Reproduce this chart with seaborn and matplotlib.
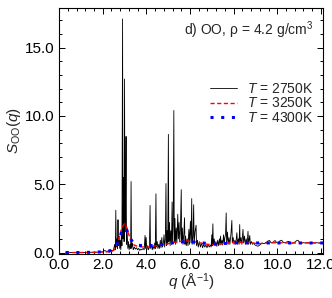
import numpy as np
import pandas as pd
import matplotlib
matplotlib.use("Agg")
import matplotlib.pyplot as plt
import seaborn as sns
from matplotlib.ticker import MultipleLocator, FormatStrFormatter

# S_OO(q)
q_2750 = [0.30, 0.80, 1.30, 1.80, 2.00, 2.10, 2.20, 2.30, 2.35, 2.40, 2.45,
          2.50, 2.55, 2.58, 2.60, 2.62, 2.65, 2.68, 2.70, 2.72, 2.75, 2.78, 2.80,
          2.83, 2.86, 2.88, 2.91, 2.93, 2.96, 2.98, 3.00, 3.02, 3.05, 3.07, 3.09,
          3.12, 3.15, 3.18, 3.21, 3.25, 3.28, 3.30, 3.32, 3.36, 3.40, 3.45, 3.50,
          3.55, 3.60, 3.65, 3.70, 3.75, 3.80, 3.85, 3.90, 3.94, 3.96, 3.99, 4.02,
          4.06, 4.10, 4.14, 4.17, 4.19, 4.23, 4.27, 4.31, 4.35, 4.39, 4.41, 4.44,
          4.46, 4.50, 4.53, 4.57, 4.60, 4.64, 4.67, 4.71, 4.74, 4.78, 4.81, 4.84,
          4.87, 4.90, 4.92, 4.95, 4.98, 5.01, 5.03, 5.06, 5.09, 5.12, 5.15, 5.18,
          5.20, 5.23, 5.26, 5.28, 5.31, 5.34, 5.37, 5.40, 5.44, 5.47, 5.50, 5.53,
          5.56, 5.60, 5.62, 5.65, 5.68, 5.72, 5.75, 5.77, 5.80, 5.83, 5.87, 5.91,
          5.95, 5.98, 6.02, 6.05, 6.08, 6.10, 6.14, 6.17, 6.19, 6.23, 6.28, 6.30,
          6.34, 6.38, 6.43, 6.48, 6.53, 6.58, 6.63, 6.68, 6.73, 6.78, 6.83, 6.88,
          6.93, 6.97, 7.00, 7.02, 7.05, 7.07, 7.11, 7.15, 7.19, 7.23, 7.27, 7.31,
          7.35, 7.38, 7.40, 7.43, 7.47, 7.50, 7.54, 7.57, 7.60, 7.63, 7.66, 7.68,
          7.72, 7.75, 7.79, 7.83, 7.88, 7.92, 7.94, 7.98, 8.02, 8.06, 8.10, 8.15,
          8.18, 8.22, 8.25, 8.28, 8.30, 8.34, 8.38, 8.43, 8.46, 8.50, 8.54, 8.58,
          8.62, 8.66, 8.69, 8.74, 8.77, 8.82, 8.87, 8.92, 8.98, 9.05, 9.12, 9.20,
          9.30, 9.40, 9.50, 9.58, 9.65, 9.72, 9.80, 9.90, 9.98, 10.05, 10.12,
          10.20, 10.28, 10.36, 10.44, 10.52, 10.60, 10.70, 10.80, 10.90, 10.95,
          11.02, 11.10, 11.20, 11.30, 11.40, 11.50, 11.60, 11.70, 11.80, 11.90,
          12.00, 12.10]
s_2750 = [0.00, 0.00, 0.01, 0.03, 0.05, 0.15, 0.06, 0.20, 0.08, 0.18, 0.10,
          0.25, 0.60, 0.20, 3.10, 0.40, 1.00, 0.30, 2.40, 0.50, 1.20, 0.30, 0.90,
          0.20, 1.50, 0.50, 17.10, 1.00, 5.50, 0.80, 12.70, 1.50, 4.00, 8.50, 0.60,
          1.50, 0.30, 0.80, 0.20, 0.60, 0.30, 5.20, 0.30, 0.70, 0.20, 0.40, 0.25,
          0.35, 0.20, 0.30, 0.15, 0.25, 0.20, 0.30, 0.20, 1.25, 0.30, 1.10, 0.20,
          0.50, 0.20, 0.40, 3.45, 0.30, 0.60, 0.20, 0.50, 0.25, 0.70, 0.30, 4.30,
          0.40, 0.80, 0.30, 0.60, 0.30, 0.90, 0.35, 1.10, 0.40, 0.70, 1.30, 0.40,
          0.90, 5.05, 0.50, 1.60, 0.60, 8.65, 0.80, 2.20, 0.50, 1.60, 0.60, 3.70,
          0.70, 2.00, 10.40, 0.80, 2.50, 0.60, 1.80, 0.70, 2.80, 1.00, 2.20, 0.80,
          1.60, 4.60, 0.70, 1.80, 0.60, 1.40, 2.55, 0.60, 1.20, 0.50, 1.00, 0.50,
          1.70, 0.60, 2.30, 0.70, 3.95, 0.60, 1.20, 3.50, 0.60, 1.50, 2.00, 0.50,
          0.90, 0.40, 0.80, 0.40, 0.70, 0.35, 0.60, 0.40, 0.55, 0.35, 0.60, 0.40,
          0.55, 0.40, 1.30, 0.50, 2.10, 0.60, 1.00, 0.50, 0.80, 0.45, 0.90, 0.50,
          1.00, 0.55, 1.20, 0.60, 0.90, 0.55, 1.30, 0.60, 1.10, 1.30, 2.90, 0.70,
          1.50, 0.60, 1.10, 0.60, 1.40, 2.35, 0.70, 1.10, 0.60, 0.90, 0.60, 1.45,
          0.60, 1.00, 0.60, 2.05, 0.70, 1.10, 0.60, 1.70, 0.70, 1.20, 0.60, 1.00,
          0.60, 1.55, 0.60, 1.25, 0.60, 0.80, 0.60, 0.70, 0.55, 0.50, 0.46, 0.55,
          0.70, 0.65, 0.75, 0.85, 0.88, 0.70, 0.75, 0.88, 0.72, 0.70, 0.85,
          0.90, 0.75, 0.70, 0.78, 0.82, 0.70, 0.68, 0.75, 0.88, 0.90,
          0.75, 0.70, 0.72, 0.70, 0.72, 0.70, 0.72, 0.70, 0.72, 0.70,
          0.70, 0.70]

q_3250 = [0.30, 1.00, 1.50, 2.00, 2.30, 2.50, 2.60, 2.70, 2.80, 2.90, 3.00,
          3.10, 3.20, 3.30, 3.40, 3.50, 3.70, 4.00, 4.30, 4.60, 5.00, 5.40, 5.80,
          6.10, 6.40, 6.80, 7.20, 7.60, 8.00, 8.40, 8.80, 9.20, 9.60, 10.00,
          10.50, 11.00, 11.50, 12.10]
s_3250 = [0.00, 0.00, 0.01, 0.03, 0.06, 0.15, 0.35, 0.80, 1.40, 1.90, 2.10,
          1.85, 1.30, 0.85, 0.60, 0.50, 0.42, 0.40, 0.45, 0.55, 0.65, 0.78, 0.85,
          0.82, 0.72, 0.60, 0.58, 0.68, 0.75, 0.75, 0.70, 0.65, 0.70, 0.72,
          0.70, 0.70, 0.70, 0.70]

q_4300 = [0.30, 1.00, 1.50, 2.00, 2.30, 2.50, 2.60, 2.70, 2.80, 2.90, 3.00,
          3.10, 3.20, 3.30, 3.40, 3.60, 3.80, 4.20, 4.60, 5.00, 5.50, 6.00, 6.50,
          7.00, 7.50, 8.00, 8.50, 9.00, 9.50, 10.00, 10.50, 11.00, 11.50, 12.10]
s_4300 = [0.00, 0.00, 0.02, 0.05, 0.10, 0.25, 0.45, 0.75, 1.20, 1.60, 1.80,
          1.65, 1.30, 0.95, 0.70, 0.55, 0.50, 0.50, 0.55, 0.65, 0.78, 0.80, 0.72,
          0.62, 0.65, 0.72, 0.72, 0.70, 0.70, 0.70, 0.70, 0.70, 0.70, 0.70]

labels = ['$T$ = 2750K', '$T$ = 3250K', '$T$ = 4300K']

sns.set_style('ticks')
plt.rcParams['font.family'] = ['Liberation Sans', 'DejaVu Sans']
plt.rcParams['mathtext.fontset'] = 'custom'
plt.rcParams['mathtext.rm'] = 'Liberation Sans'
plt.rcParams['mathtext.it'] = 'Liberation Sans:italic'

fig = plt.figure(figsize=(3.32, 2.98), dpi=100)
ax = fig.add_axes([0.178, 0.148, 0.795, 0.825])

d1 = pd.DataFrame({'q': q_2750, 's': s_2750})
d2 = pd.DataFrame({'q': q_3250, 's': s_3250})
d3 = pd.DataFrame({'q': q_4300, 's': s_4300})

sns.lineplot(data=d1, x='q', y='s', ax=ax, color='black', lw=0.6,
             estimator=None, sort=False, label=labels[0])
sns.lineplot(data=d2, x='q', y='s', ax=ax, color='red', lw=1.0,
             estimator=None, sort=False, label=labels[1], dashes=False)
sns.lineplot(data=d3, x='q', y='s', ax=ax, color='blue', lw=2.2,
             estimator=None, sort=False, label=labels[2], dashes=False)
ax.lines[1].set_dashes((3, 1.8))
ax.lines[2].set_dashes((1, 2.5))

ax.set_xlim(0, 12.1)
ax.set_ylim(-0.1, 17.9)
ax.xaxis.set_major_locator(MultipleLocator(2.0))
ax.xaxis.set_minor_locator(MultipleLocator(0.4))
ax.yaxis.set_major_locator(MultipleLocator(5.0))
ax.yaxis.set_minor_locator(MultipleLocator(1.0))
ax.xaxis.set_major_formatter(FormatStrFormatter('%.1f'))
ax.yaxis.set_major_formatter(FormatStrFormatter('%.1f'))
ax.tick_params(which='both', direction='in', top=True, right=True,
               labelsize=11, width=0.7, colors='black')
ax.tick_params(which='major', length=4, pad=3)
ax.tick_params(which='minor', length=2)
for sp in ax.spines.values():
    sp.set_linewidth(0.8)
    sp.set_color('black')

ax.set_xlabel('$q$ (Å$^{-1}$)', fontsize=11, labelpad=0)
ax.set_ylabel('$S_{\\rm OO}(q)$', fontsize=11, labelpad=2)
ax.text(0.965, 0.955, 'd) OO, ρ = 4.2 g/cm$^3$', transform=ax.transAxes,
        ha='right', va='top', fontsize=10)

ax.legend(loc='upper right', bbox_to_anchor=(1.0, 0.74), frameon=False,
          fontsize=10, handlelength=2.0, handletextpad=0.7,
          labelspacing=0.05, borderpad=0.2)

plt.savefig('out.png', dpi=100)
